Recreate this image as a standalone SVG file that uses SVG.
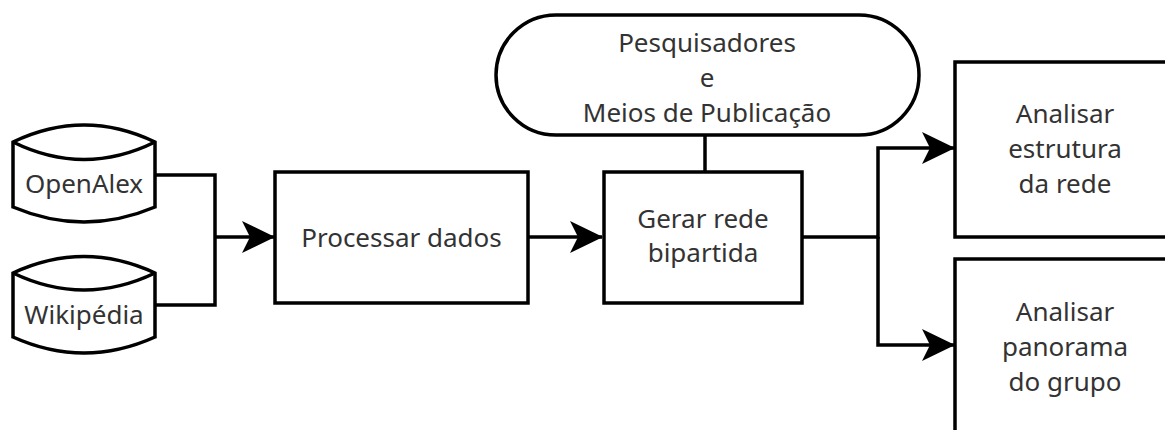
<svg xmlns="http://www.w3.org/2000/svg" width="1165" height="430" viewBox="0 0 1165 430">
<style>
.s{fill:#fff;stroke:#000;stroke-width:3.5}
.c{fill:none;stroke:#000;stroke-width:3.5}
text{font-family:"Noto Sans","Open Sans","DejaVu Sans",sans-serif;font-size:26px;fill:#333;text-anchor:middle}
</style>
<defs>
<marker id="arr" markerUnits="userSpaceOnUse" markerWidth="34" markerHeight="34" viewBox="0 0 34 34" refX="32" refY="17" orient="auto">
<path d="M0,1 L33,17 L0,33 L8,17 Z" fill="#000"/>
</marker>
</defs>
<rect width="1165" height="430" fill="#fff"/>
<g id="connectors">
<path class="c" d="M155,175 H215 V305 H155"/>
<path class="c" d="M215,237 H274" marker-end="url(#arr)"/>
<path class="c" d="M528,237 H602" marker-end="url(#arr)"/>
<path class="c" d="M705,135 V172"/>
<path class="c" d="M803,237 H878 V148 H954" marker-end="url(#arr)"/>
<path class="c" d="M878,237 V345 H954" marker-end="url(#arr)"/>
</g>
<g id="openalex">
<path class="s" d="M13,142 Q84,108 155,142 V207 Q84,237 13,207 Z"/>
<path class="c" d="M13,142 Q84,177 155,142"/>
<text x="84" y="193">OpenAlex</text>
</g>
<g id="wikipedia">
<path class="s" d="M13,273 Q84,240 155,273 V337 Q84,369 13,337 Z"/>
<path class="c" d="M13,273 Q84,307 155,273"/>
<text x="84" y="324">Wikipédia</text>
</g>
<g id="processar">
<rect class="s" x="275" y="172" width="253" height="131"/>
<text x="401.5" y="247">Processar dados</text>
</g>
<g id="pesquisadores">
<rect class="s" x="496" y="15" width="423" height="120" rx="60" ry="60"/>
<text x="707" y="52">Pesquisadores</text>
<text x="707" y="87">e</text>
<text x="707" y="122">Meios de Publicação</text>
</g>
<g id="gerar">
<rect class="s" x="604" y="172" width="198" height="131"/>
<text x="703" y="228">Gerar rede</text>
<text x="703" y="262">bipartida</text>
</g>
<g id="estrutura">
<rect class="s" x="955" y="62" width="225" height="175"/>
<text x="1065" y="123">Analisar</text>
<text x="1065" y="158">estrutura</text>
<text x="1065" y="193">da rede</text>
</g>
<g id="panorama">
<rect class="s" x="955" y="259" width="225" height="176"/>
<text x="1065" y="321">Analisar</text>
<text x="1065" y="356">panorama</text>
<text x="1065" y="391">do grupo</text>
</g>
</svg>
